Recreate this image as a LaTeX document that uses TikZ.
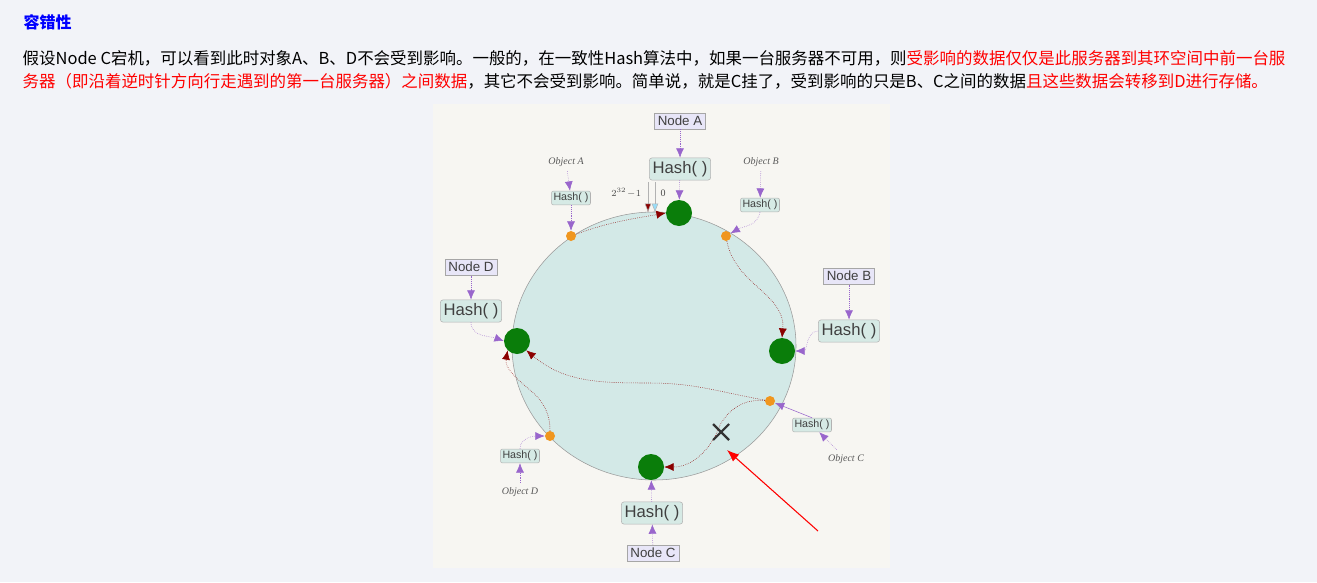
\documentclass[tikz,border=0pt]{standalone}
\usepackage{fontspec}
\setmainfont{Liberation Sans}
\newfontfamily\cjk{Noto Sans CJK SC}
\newfontfamily\objfont{Liberation Serif}
\usetikzlibrary{positioning,arrows.meta,calc}
\definecolor{pagebg}{HTML}{F2F3F8}
\definecolor{picbg}{HTML}{F7F6F2}
\definecolor{ringfill}{HTML}{D3E9E7}
\definecolor{hashfill}{HTML}{D6EAE5}
\definecolor{nodefill}{HTML}{E8E6F8}
\definecolor{purp}{HTML}{9966CC}
\definecolor{darkred}{HTML}{8B0000}
\definecolor{server}{HTML}{0A7D0A}
\definecolor{obj}{HTML}{F0961E}
\tikzset{nodebox/.style = {draw=gray!70,fill=nodefill,inner sep=2.5pt,font=\fontsize{10}{12}\selectfont,text=black!75},
         hashbig/.style = {draw=gray!60,fill=hashfill,rounded corners=2pt,inner sep=2.5pt,font=\fontsize{12.5}{14}\selectfont,text=black!75},
         hashsmall/.style = {draw=gray!60,fill=hashfill,rounded corners=1.5pt,inner sep=1.5pt,font=\fontsize{8}{10}\selectfont,text=black!75},
         objlabel/.style = {font=\objfont\itshape\fontsize{7.5}{9}\selectfont,text=black!65},
         server/.style = {circle,fill=server,minimum size=19.5pt,inner sep=0pt},
         objdot/.style = {circle,fill=obj,minimum size=7.5pt,inner sep=0pt},
         feed/.style = {purp,-{Latex[length=7pt,width=6pt]},densely dotted},
         move/.style = {darkred,densely dotted,-{Latex[length=7pt,width=6pt]}}}
\begin{document}
\begin{tikzpicture}[x=0.75pt,y=-0.75pt]
        \fill[pagebg] (0,0) rectangle (1317,582);
        \useasboundingbox (0,0) rectangle (1317,582);
        \fill[picbg] (433,104) rectangle (890,568);

        % text above the picture
        \node [anchor=west,text=blue,font=\cjk\bfseries\fontsize{12}{14}\selectfont] (title) at (19,22) {容错性};
        \node [anchor=west,font=\cjk\fontsize{12.35}{14}\selectfont] (line1) at (18,58)
            {假设Node C宕机，可以看到此时对象A、B、D不会受到影响。一般的，在一致性Hash算法中，如果一台服务器不可用，则\textcolor{red}{受影响的数据仅仅是此服务器到其环空间中前一台服}};
        \node [anchor=west,font=\cjk\fontsize{12.35}{14}\selectfont] (line2) at (18,81)
            {\textcolor{red}{务器（即沿着逆时针方向行走遇到的第一台服务器）之间数据}，其它不会受到影响。简单说，就是C挂了，受到影响的只是B、C之间的数据\textcolor{red}{且这些数据会转移到D进行存储。}};

        % the ring
        \draw [gray!80,fill=ringfill] (654,346) ellipse [x radius=142,y radius=134];

        % servers
        \node [server] (A) at (679,213) {};
        \node [server] (B) at (782,351) {};
        \node [server] (C) at (651,467) {};
        \node [server] (D) at (517,341) {};

        % objects
        \node [objdot] (oa) at (571,236) {};
        \node [objdot] (ob) at (726,236) {};
        \node [objdot] (oc) at (770,401) {};
        \node [objdot] (od) at (550,436) {};

        % node labels and hash boxes
        \node [nodebox] (nA) at (680,121) {Node A};
        \node [hashbig] (hA) at (680,169) {Hash( )};
        \node [nodebox] (nB) at (849,276) {Node B};
        \node [hashbig] (hB) at (849,331) {Hash( )};
        \node [nodebox] (nC) at (653,553) {Node C};
        \node [hashbig] (hC) at (652,513) {Hash( )};
        \node [nodebox] (nD) at (471,267) {Node D};
        \node [hashbig] (hD) at (471,311) {Hash( )};

        \node [objlabel] (tA) at (566,162) {Object A};
        \node [hashsmall] (sA) at (571,198) {Hash( )};
        \node [objlabel] (tB) at (761,162) {Object B};
        \node [hashsmall] (sB) at (760,205) {Hash( )};
        \node [objlabel] (tC) at (846,459) {Object C};
        \node [hashsmall] (sC) at (812,425) {Hash( )};
        \node [objlabel] (tD) at (520,492) {Object D};
        \node [hashsmall] (sD) at (520,456) {Hash( )};

        \draw [feed] (nA) -- (hA);
        \draw [feed] (hA) -- (A);
        \draw [feed] (nB) -- (hB);
        \draw [feed] (hB.west) to[out=180,in=0] (B.east);
        \draw [feed] (nC) -- (hC);
        \draw [feed] (hC) -- (C);
        \draw [feed] (nD) -- (hD);
        \draw [feed] (hD.south) to[out=-90,in=160] (D.west);
        \draw [feed] (tA) -- (sA);
        \draw [feed] (sA) -- (oa);
        \draw [feed] (tB) -- (sB);
        \draw [feed] (sB.south) to[out=-100,in=30] (ob);
        \draw [feed] (tC) -- (sC);
        \draw [purp,-{Latex[length=7pt,width=6pt]}] (sC.north) -- (oc);
        \draw [feed] (tD) -- (sD);
        \draw [feed] (sD.north) to[out=90,in=180] (od);

        % start of the ring
        \node [font=\objfont\fontsize{7.5}{9}\selectfont,text=black!70,anchor=east] (max) at (646,193) {$2^{32}\!-\!1$};
        \node [font=\objfont\fontsize{7.5}{9}\selectfont,text=black!70,anchor=west] (zero) at (656,193) {0};
        \coordinate (maxtop) at (648,182);
        \coordinate (maxend) at (648,213);
        \coordinate (zerotop) at (655,182);
        \coordinate (zeroend) at (655,213);
        \draw [gray!60,-{Latex[length=7pt,width=5pt,fill=darkred]}] (maxtop) -- (maxend);
        \draw [gray!60,-{Latex[length=7pt,width=5pt,fill=cyan!40]}] (zerotop) -- (zeroend);

        % objects moving clockwise to their server
        \draw [move] (oa) to[out=20,in=190] (A.west);
        \draw [move] (ob) to[out=-80,in=85] (B.north);
        \draw [move] (oc) to[out=170,in=0] (650,383) to[out=180,in=-40] (D.south east);
        \draw [move] (oc) to[out=175,in=60] (720,425) to[out=-110,in=0] (C.east);
        \draw [move] (od) to[out=90,in=-40] (530,390) to[out=140,in=-100] (D.south west);

        % failed server
        \coordinate (cross) at (721,432);
        \draw [black!80,line width=1.6pt] ($(cross)+(-8,-8)$) -- ($(cross)+(8,8)$) ($(cross)+(-8,8)$) -- ($(cross)+(8,-8)$);
        \coordinate (pointer) at (818,531);
        \draw [red,thick,-{Latex[length=9pt,width=7pt]}] (pointer) -- ($(cross)+(6,18)$);
\end{tikzpicture}
\end{document}
